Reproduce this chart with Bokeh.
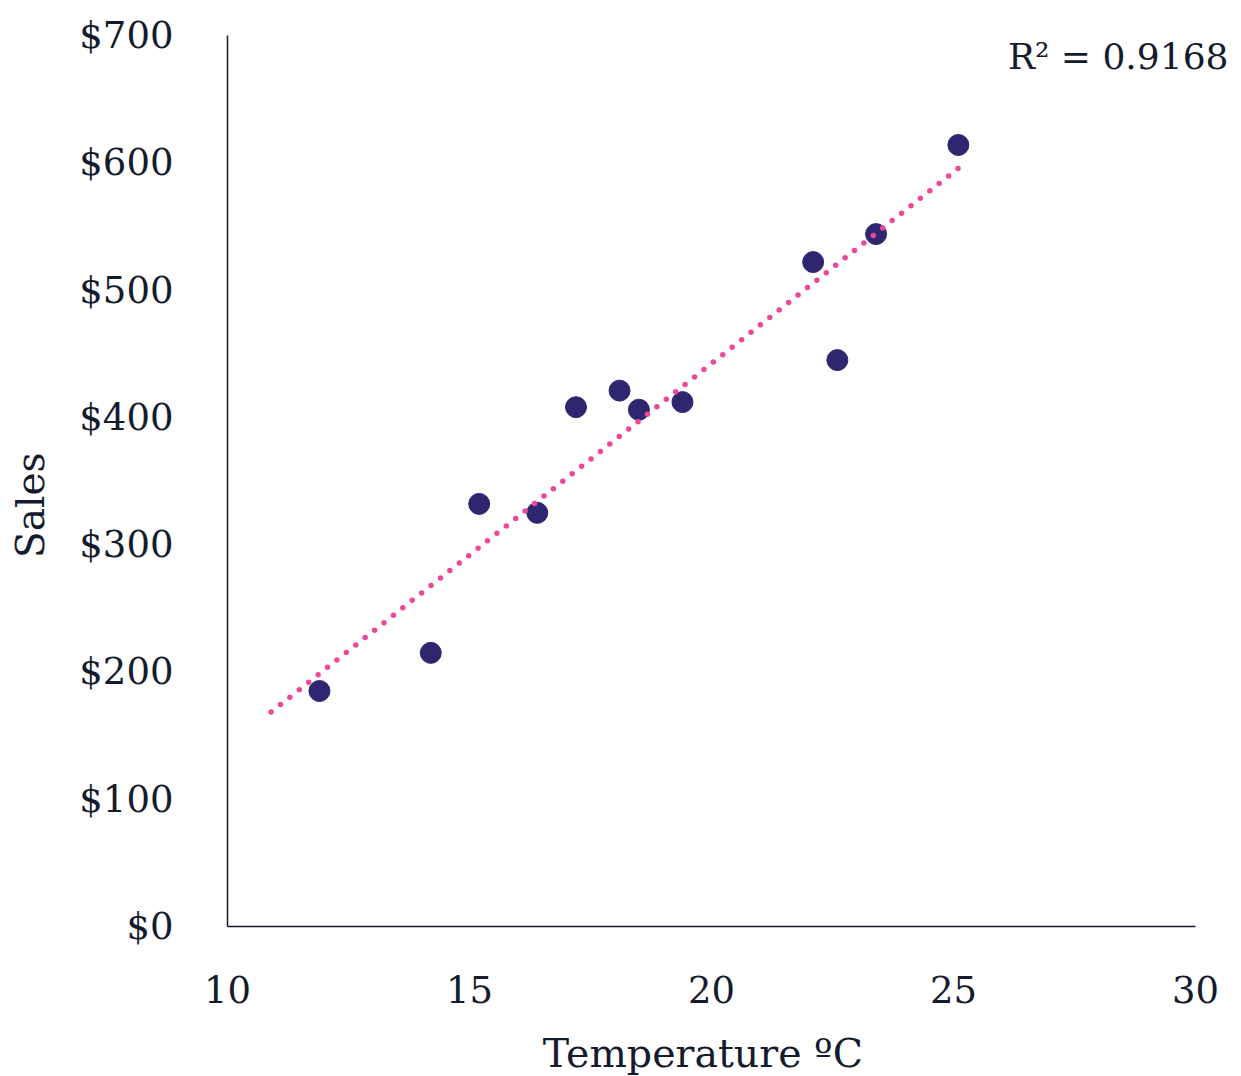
import math
import numpy as np
from bokeh.plotting import figure
from bokeh.models import Range1d, FixedTicker, PrintfTickFormatter, Label
from bokeh.embed import file_html
from bokeh.resources import INLINE

# Data
temperature = [14.2, 16.4, 11.9, 15.2, 18.5, 22.1, 19.4, 25.1, 23.4, 18.1, 22.6, 17.2]
sales = [215, 325, 185, 332, 406, 522, 412, 614, 544, 421, 445, 408]
x_ticks = [10, 15, 20, 25, 30]
y_ticks = [0, 100, 200, 300, 400, 500, 600, 700]
trend_start = 10.9
r2_text = "R² = 0.9168"
x_title = "Temperature ºC"
y_title = "Sales"

FONT = "DejaVu Serif"
TXT = "#141B2D"

# frame is extended a little to the right so the R² note fits inside it;
# the x axis itself is bounded to 10..30
p = figure(width=1241, height=1076, output_backend="svg", toolbar_location=None,
           x_range=Range1d(10, 30.764), y_range=Range1d(0, 700),
           min_border_left=227, min_border_right=9, min_border_top=35, min_border_bottom=150)
p.outline_line_color = None
p.grid.visible = False
p.background_fill_color = "white"

# trendline from linear fit of the data
slope, intercept = np.polyfit(temperature, sales, 1)
tx = [trend_start, max(temperature)]
ty = [slope * v + intercept for v in tx]

p.scatter(temperature, sales, size=21, fill_color="#2E276F", line_color="#2E276F")
p.line(tx, ty, line_color="#EC4899", line_width=5.5, line_dash="0 12", line_cap="round")

for ax in (p.xaxis[0], p.yaxis[0]):
    ax.major_tick_line_color = None
    ax.minor_tick_line_color = None
    ax.major_tick_out = 0
    ax.major_tick_in = 0
    ax.minor_tick_out = 0
    ax.axis_line_color = TXT
    ax.axis_line_width = 1.5
    ax.major_label_text_font = FONT
    ax.major_label_text_font_size = "37px"
    ax.major_label_text_color = TXT

p.xaxis.bounds = (10, 30)
p.xaxis.ticker = FixedTicker(ticks=x_ticks)
p.yaxis.ticker = FixedTicker(ticks=y_ticks)
p.yaxis.formatter = PrintfTickFormatter(format="$%d")
p.yaxis.major_label_standoff = 54
p.xaxis.major_label_standoff = 49

# axis titles placed in the margins
p.add_layout(Label(x=5.92, y=331, text=y_title, angle=math.pi / 2,
                   text_align="center", text_baseline="middle", text_font=FONT,
                   text_font_size="39px", text_color=TXT), "left")
p.add_layout(Label(x=19.82, y=-99, text=x_title,
                   text_align="center", text_baseline="middle", text_font=FONT,
                   text_font_size="39.5px", text_color=TXT), "below")

# R² annotation
p.add_layout(Label(x=30.68, y=683.5, text=r2_text, text_align="right",
                   text_baseline="alphabetic", text_font=FONT,
                   text_font_size="36px", text_color=TXT))

open("out.html", "w").write(file_html(p, INLINE))
